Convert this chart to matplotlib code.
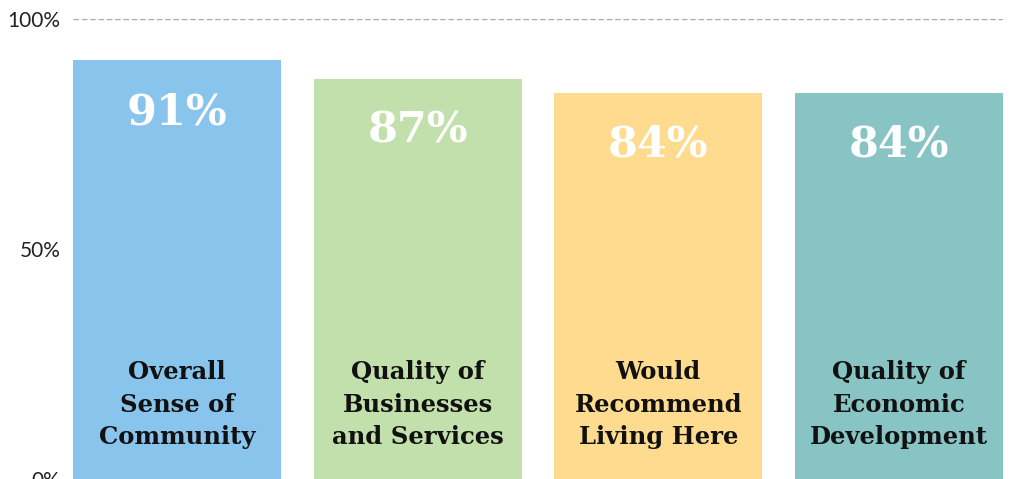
import matplotlib
matplotlib.use("Agg")
import matplotlib.pyplot as plt

categories = ["Overall\nSense of\nCommunity",
              "Quality of\nBusinesses\nand Services",
              "Would\nRecommend\nLiving Here",
              "Quality of\nEconomic\nDevelopment"]
values = [91, 87, 84, 84]
colors = ["#88c4ec", "#c2e0ac", "#fedb8e", "#88c4c4"]
yticks = [0, 50, 100]
ytick_labels = ["0%", "50%", "100%"]

fig = plt.figure(figsize=(10.13, 4.79), dpi=100)
ax = fig.add_axes([73 / 1013, 0.0, 930 / 1013, 1 - 19 / 479])

x = range(len(values))
ax.bar(x, values, width=0.864, color=colors, zorder=2)
ax.axhline(100, color="#aaaaaa", lw=1, ls=(0, (4, 2)), zorder=1)

for i, v in enumerate(values):
    # value label inside the top of the bar
    ax.annotate(f"{v}%", (i, v), xytext=(0, -37.5),
                textcoords="offset points", ha="center", va="center",
                color="white", fontsize=31, fontweight="bold", family="DejaVu Serif")
    # category label near the bottom
    ax.text(i, 16.1, categories[i], ha="center", va="center",
            fontsize=17.5, fontweight="bold", family="DejaVu Serif",
            linespacing=1.45, color="#111111")

ax.set_xlim(-0.432, len(values) - 1 + 0.432)
ax.set_ylim(0, 100)
ax.set_yticks(yticks)
ax.set_yticklabels(ytick_labels, family="Lato", fontsize=15, color="#222222")
ax.tick_params(axis="y", length=0, pad=9)
ax.set_xticks([])
for s in ax.spines.values():
    s.set_visible(False)

fig.savefig("out.png", dpi=100)
